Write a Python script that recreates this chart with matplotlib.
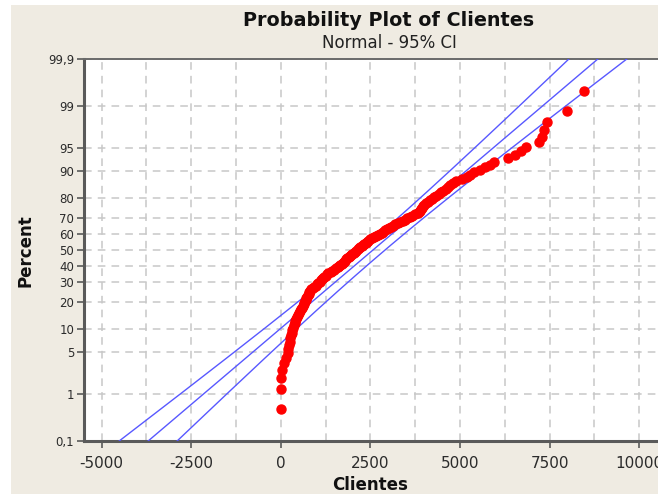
import matplotlib
matplotlib.use('Agg')
import matplotlib.pyplot as plt
from matplotlib.patches import Rectangle
import numpy as np
from statistics import NormalDist

# valores de Clientes (ordenados)
clientes = [
    10, 20, 20, 30,
    100, 150, 190, 210, 240, 255, 270, 290, 310, 325, 345, 370, 390, 410, 430, 450,
    485, 520, 550, 570, 595, 615, 635, 655, 680, 700, 715, 735, 755, 775, 795, 815,
    845, 890, 930, 970, 1010, 1050, 1085, 1120, 1140, 1180, 1215, 1255, 1290, 1330,
    1390, 1440, 1490, 1540, 1590, 1635, 1665, 1695, 1730, 1760,
    1790, 1825, 1860, 1895, 1930, 1965, 2000, 2035, 2070, 2105,
    2145, 2180, 2215, 2255, 2290, 2330, 2370, 2410, 2445, 2490,
    2550, 2605, 2655, 2710, 2760, 2815, 2865, 2915, 2970, 3020,
    3080, 3135, 3195, 3260, 3330, 3400, 3465, 3530, 3595, 3665,
    3750, 3835, 3860, 3890, 3915, 3945, 3970, 4000, 4040, 4100,
    4155, 4210, 4265, 4335, 4405, 4475, 4540, 4610, 4680, 4735,
    4805, 4890, 5060, 5190, 5280, 5390, 5560, 5690, 5830,
    5945, 6335, 6530, 6695, 6835, 7220, 7300, 7360, 7420, 8000, 8470,
]
pct_ticks = [0.1, 1, 5, 10, 20, 30, 40, 50, 60, 70, 80, 90, 95, 99, 99.9]
pct_labels = ['0,1', '1', '5', '10', '20', '30', '40', '50', '60', '70',
              '80', '90', '95', '99', '99,9']
x_ticks = [-5000, -2500, 0, 2500, 5000, 7500, 10000]

nd = NormalDist()
W, H = 658, 496

fig = plt.figure(figsize=(W / 100, H / 100), dpi=100)
fig.patch.set_facecolor('white')
# fundo bege do Minitab
fig.add_artist(Rectangle((11 / W, 2 / H), (W - 11) / W, (H - 7) / H,
                         transform=fig.transFigure, facecolor='#efebe2',
                         edgecolor='none', zorder=0))

ax = fig.add_axes([84 / W, 1 - 441 / H, (W - 84) / W, (441 - 59) / H])
ax.set_facecolor('white')

# posições (mediana dos ranks) e ajuste normal
x = np.sort(np.array(clientes, dtype=float))
n = len(x)
ranks = (np.arange(1, n + 1) - 0.3) / (n + 0.4)
z = np.array([nd.inv_cdf(p) for p in ranks])
mu = x.mean()
s = x.std(ddof=1)

zmin, zmax = nd.inv_cdf(0.001), nd.inv_cdf(0.999)
zz = np.linspace(zmin, zmax, 200)
fit = mu + zz * s
se = s * np.sqrt(1 / n + zz ** 2 / (2 * n))

for xs in (fit - 1.96 * se, fit, fit + 1.96 * se):
    ax.plot(xs, zz, color='#5858ff', lw=1, zorder=3)
ax.plot(x, z, 'o', color='#ff0000', ms=6.5, mec='#ff0000', zorder=4)

ax.set_xlim(-5492, 10528)
ax.set_ylim(zmin, zmax)

ax.set_xticks(x_ticks)
ax.set_xticklabels([str(t) for t in x_ticks])
ax.set_xticks(np.arange(-5000, 10001, 1250), minor=True)
ax.set_yticks([nd.inv_cdf(p / 100) for p in pct_ticks])
ax.set_yticklabels(pct_labels)

ax.grid(which='both', axis='x', ls=(0, (5, 4)), color='#c8c8c8', lw=1.1)
ax.grid(which='major', axis='y', ls=(0, (5, 4)), color='#c8c8c8', lw=1.1)
ax.set_axisbelow(True)

ax.tick_params(axis='x', which='major', direction='out', length=5, width=1.2,
               color='#5a5a5a', labelsize=11, pad=6, labelcolor='#2b2b2b')
ax.tick_params(axis='x', which='minor', length=0)
ax.tick_params(axis='y', direction='out', length=5, width=1.2,
               color='#5a5a5a', labelsize=8.5, pad=2, labelcolor='#2b2b2b')

for side in ('left', 'bottom'):
    ax.spines[side].set_color('#5a5a5a')
    ax.spines[side].set_linewidth(2.2)
ax.spines['top'].set_color('#6a6a6a')
ax.spines['top'].set_linewidth(1.4)
ax.spines['right'].set_visible(False)

# textos
fig.text(389 / W, 1 - 20 / H, 'Probability Plot of Clientes', ha='center',
         va='center', fontsize=13.8, fontweight='bold', color='#111111')
fig.text(389 / W, 1 - 43 / H, 'Normal - 95% CI', ha='center', va='center',
         fontsize=12, color='#222222')
fig.text(25 / W, 1 - 251 / H, 'Percent', rotation=90, ha='center',
         va='center', fontsize=12, fontweight='bold', color='#111111')
fig.text(370 / W, 1 - 485 / H, 'Clientes', ha='center', va='center',
         fontsize=12, fontweight='bold', color='#111111')

fig.savefig('out.png', dpi=100, facecolor=fig.get_facecolor())
